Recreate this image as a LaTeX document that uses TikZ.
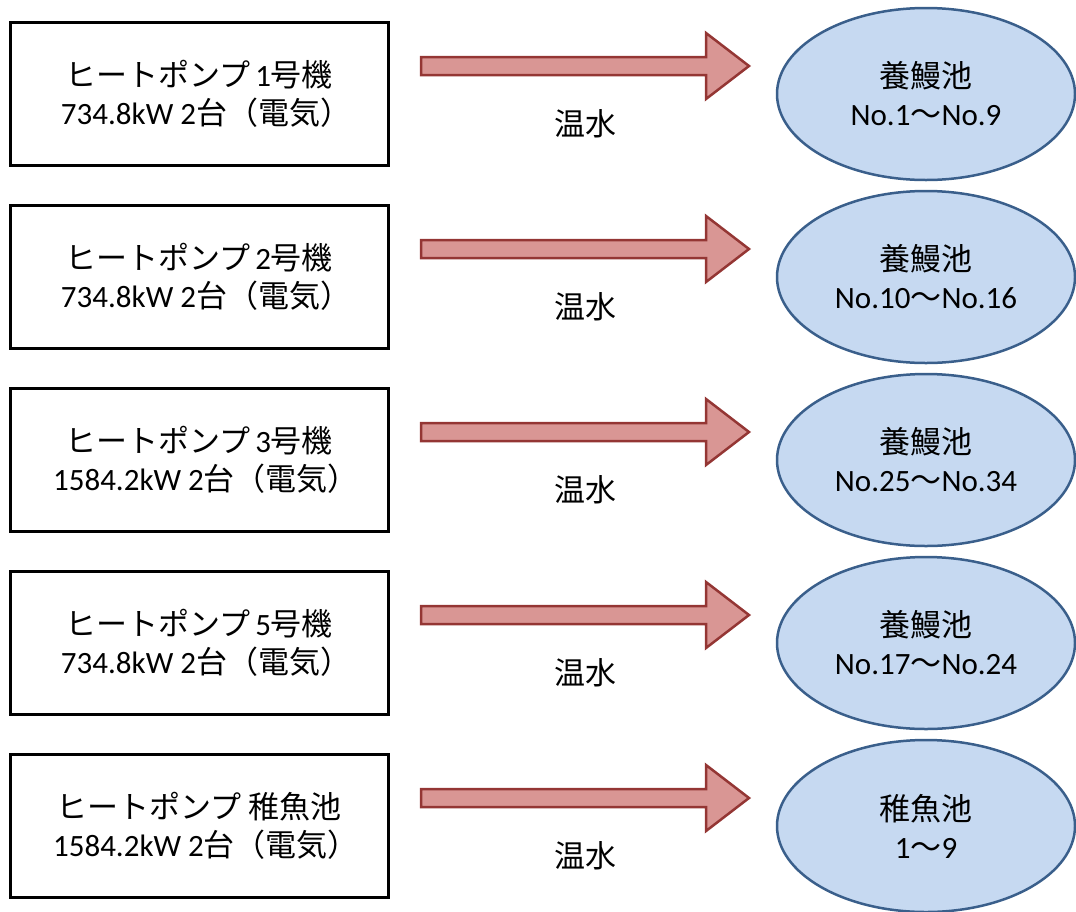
\documentclass[tikz,border=0pt]{standalone}
\usepackage{fontspec}
\setmainfont{Carlito}
\newfontfamily\jpfont{Noto Sans CJK JP}
\newcommand\jtxt[1]{{\jpfont #1}}
\usetikzlibrary{shapes.geometric}
\definecolor{arrowfill}{HTML}{D99694}
\definecolor{arrowline}{HTML}{943634}
\definecolor{pondfill}{HTML}{C6D9F1}
\definecolor{pondline}{HTML}{3A5F8B}
\tikzset{
  hpbox/.style={draw=black, line width=3pt, fill=white, rectangle,
    minimum width=378pt, minimum height=143pt, inner sep=0pt,
    align=center, font=\fontsize{31}{38}\selectfont},
  pond/.style={draw=pondline, line width=2.5pt, fill=pondfill, ellipse,
    minimum width=298pt, minimum height=172pt, inner sep=0pt,
    align=center, font=\fontsize{31}{38}\selectfont},
  hotarrow/.style={draw=arrowline, line width=2.5pt, fill=arrowfill, line join=miter},
  flowlabel/.style={font=\fontsize{31}{38}\selectfont, inner sep=0pt}
}
\begin{document}
\begin{tikzpicture}[x=1pt, y=-1pt]
\useasboundingbox (0,0) rectangle (1076,911);
\foreach \i/\ta/\tb/\pa/\pb in {
  0/{\jtxt{ヒートポンプ}\,1\jtxt{号機}}/{734.8kW 2\jtxt{台（電気）}\kern-14pt}/{\jtxt{養鰻池}}/{No.1\jtxt{～}No.9},
  1/{\jtxt{ヒートポンプ}\,2\jtxt{号機}}/{734.8kW 2\jtxt{台（電気）}\kern-14pt}/{\jtxt{養鰻池}}/{No.10\jtxt{～}No.16},
  2/{\jtxt{ヒートポンプ}\,3\jtxt{号機}}/{1584.2kW 2\jtxt{台（電気）}\kern-14pt}/{\jtxt{養鰻池}}/{No.25\jtxt{～}No.34},
  3/{\jtxt{ヒートポンプ}\,5\jtxt{号機}}/{734.8kW 2\jtxt{台（電気）}\kern-14pt}/{\jtxt{養鰻池}}/{No.17\jtxt{～}No.24},
  4/{\jtxt{ヒートポンプ 稚魚池}}/{1584.2kW 2\jtxt{台（電気）}\kern-14pt}/{\jtxt{稚魚池}}/{1\jtxt{～}9}} {
  \pgfmathsetmacro{\yc}{94+183*\i}
  \node[hpbox] (box\i) at (199,\yc) {\ta\\\tb};
  \node[pond] (pond\i) at (926,\yc) {\pa\\\pb};
  \coordinate (tail\i) at (421,\yc-28);
  \draw[hotarrow] (tail\i) ++(0,-9) -- ++(285,0) -- ++(0,-24) -- ++(43,33)
     -- ++(-43,33) -- ++(0,-24) -- ++(-285,0) -- cycle;
  \node[flowlabel] (water\i) at (585,\yc+30) {\jtxt{温水}};
}
\end{tikzpicture}
\end{document}
